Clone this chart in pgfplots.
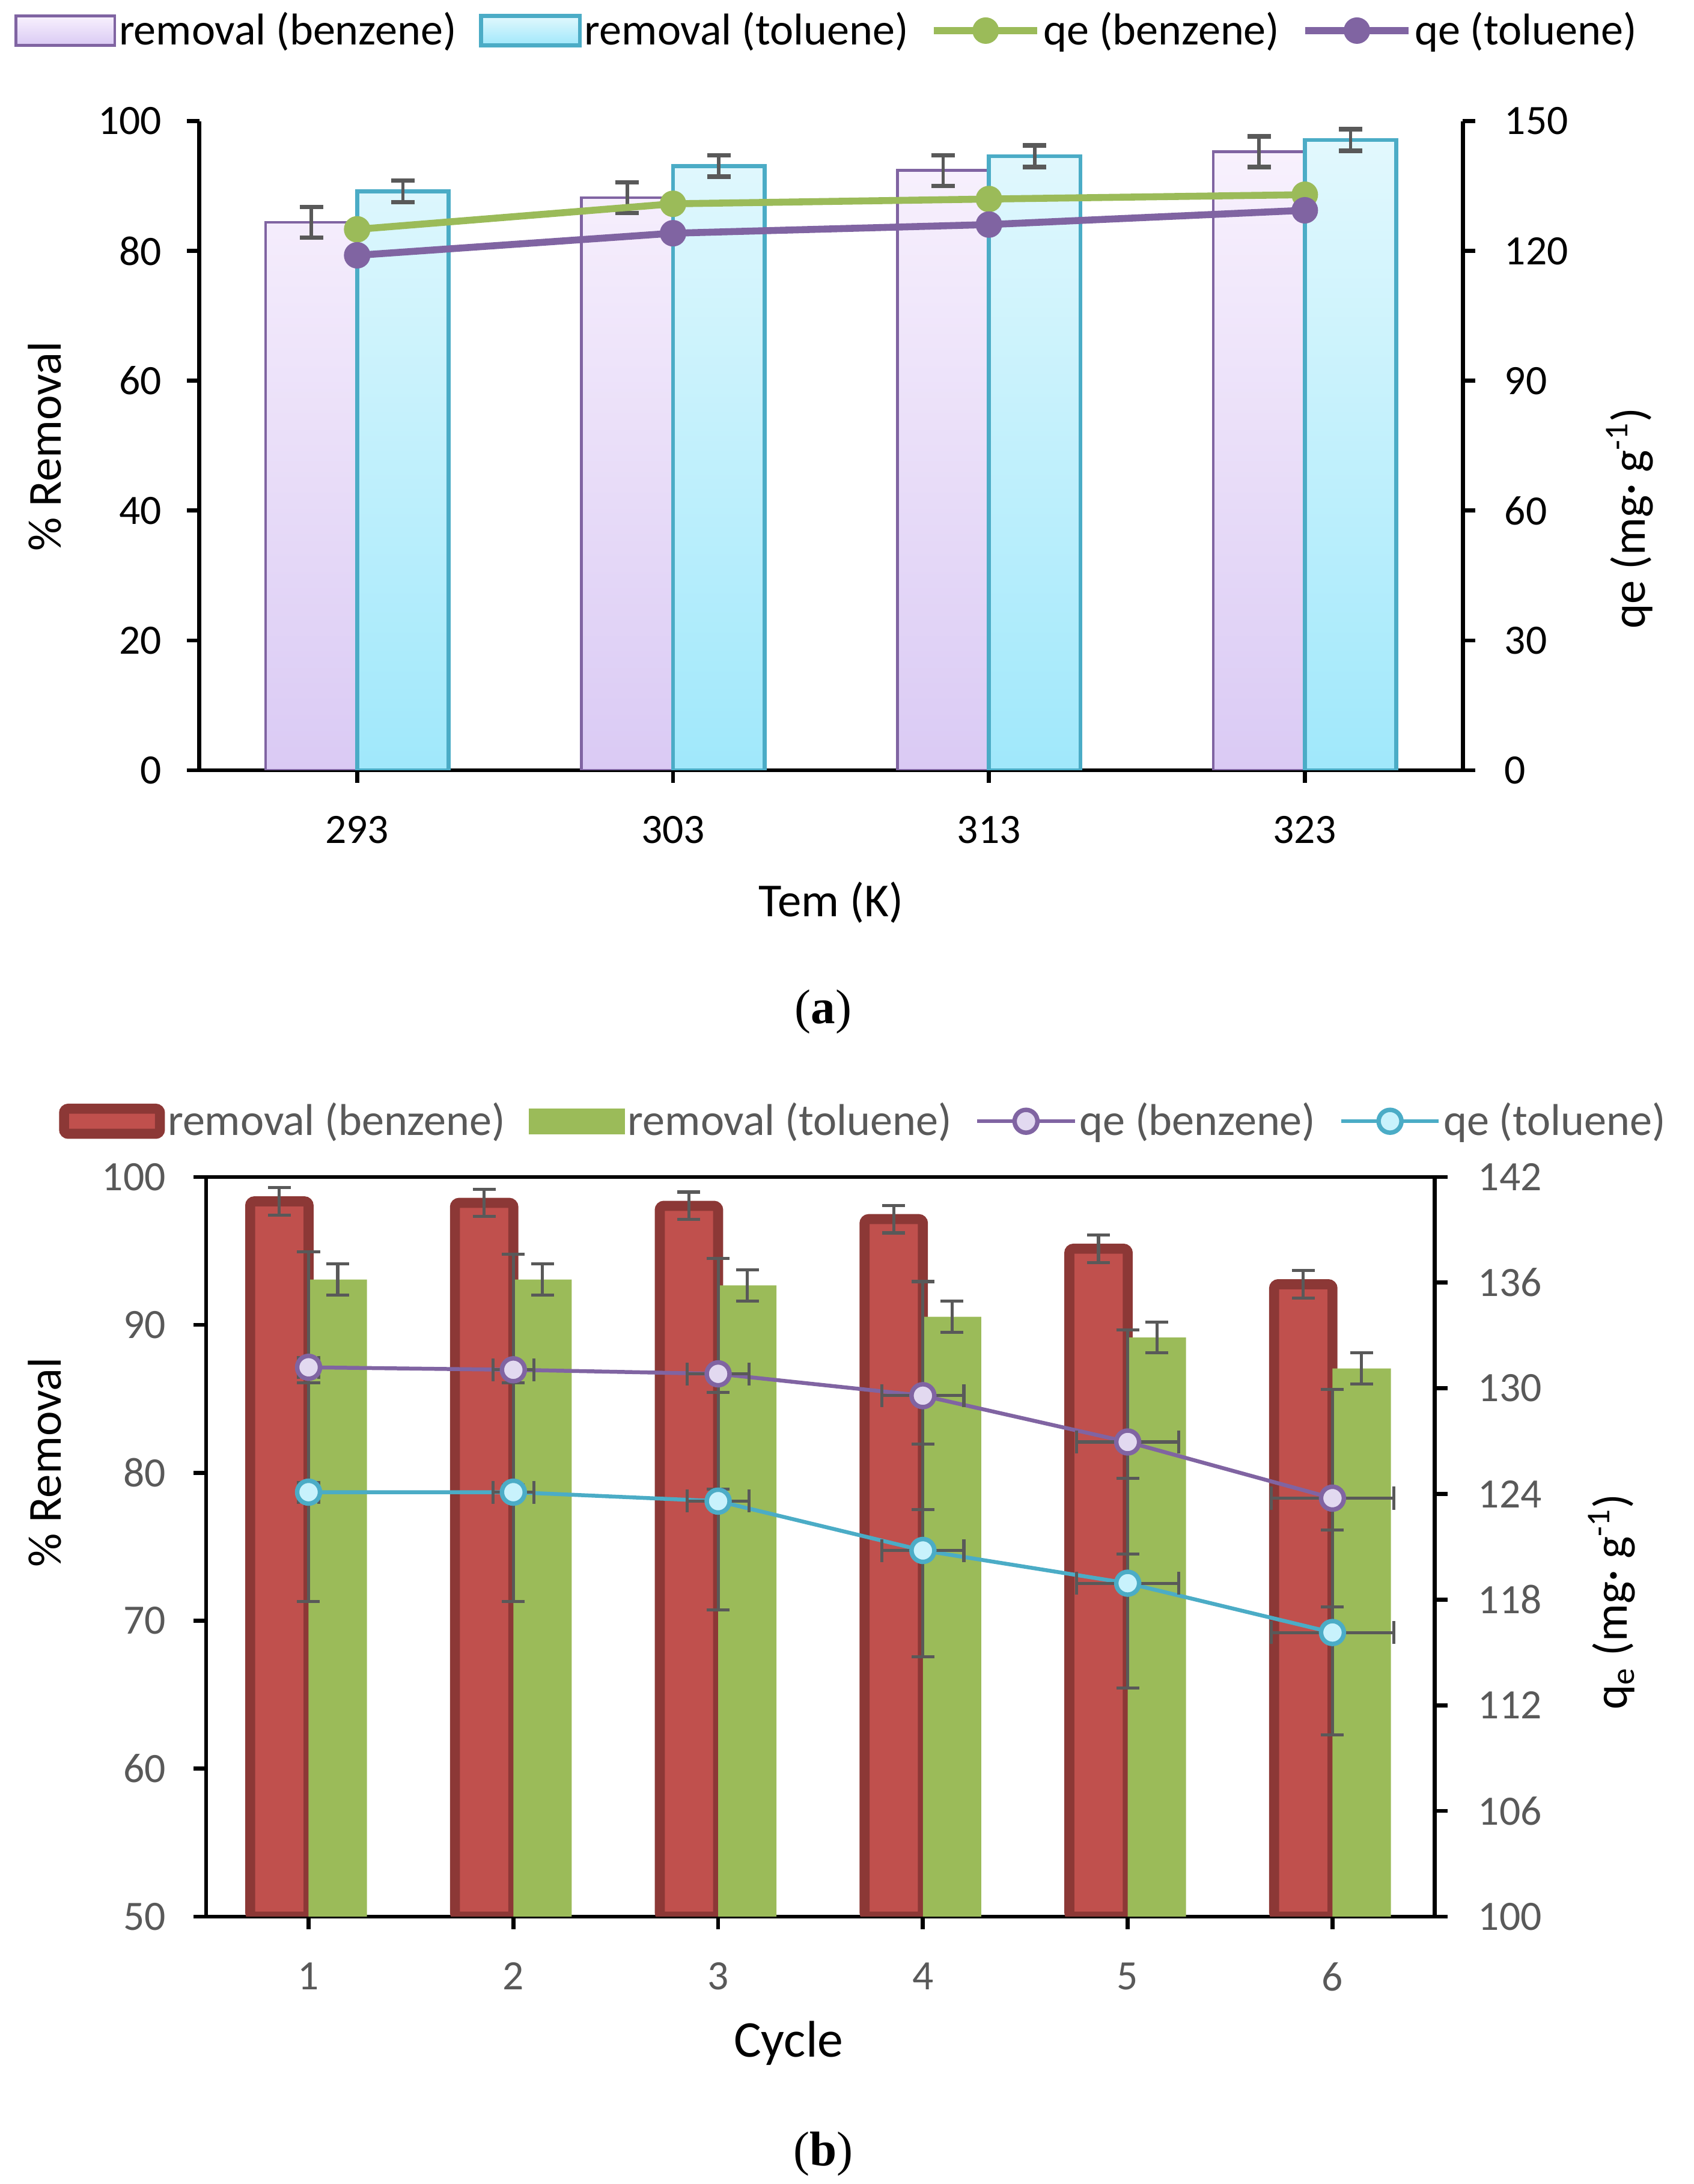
\documentclass[border=0pt]{standalone}
\usepackage{pgfplots}
\pgfplotsset{compat=1.18}
\usepackage{fontspec}
\setmainfont{Carlito}
\newfontfamily\seriffont{Liberation Serif}

\definecolor{purp}{HTML}{8064A2}
\definecolor{cyanA}{HTML}{4BACC6}
\definecolor{greenA}{HTML}{9BBB59}
\definecolor{errgrey}{HTML}{595959}
\definecolor{redfill}{HTML}{C0504D}
\definecolor{reddark}{HTML}{8C3836}
\definecolor{lavtop}{HTML}{F8F1FD}
\definecolor{lavbot}{HTML}{DACAF4}
\definecolor{cyantop}{HTML}{E2F8FD}
\definecolor{cyanbot}{HTML}{A0E8FB}
\definecolor{lavmark}{HTML}{E2D9F0}
\definecolor{cyanmark}{HTML}{C8F2FC}

\pgfplotsset{
  barlegA/.style={legend image code/.code={\draw[##1] (0.5pt,-5.25pt) rectangle (36pt,5.25pt);}},
  barlegB/.style={legend image code/.code={\draw[##1] (1.8pt,-4.5pt) rectangle (36.2pt,4.5pt);}},
  barlegC/.style={legend image code/.code={\fill[##1, draw=none] (0pt,-4.6pt) rectangle (34.5pt,4.6pt);}},
  linelegA/.style={legend image code/.code={\draw[mark repeat=2,mark phase=2,##1] plot coordinates {(0pt,0pt) (18.5pt,0pt) (37pt,0pt)};}},
  linelegB/.style={legend image code/.code={\draw[mark repeat=2,mark phase=2,##1] plot coordinates {(0pt,0pt) (17.5pt,0pt) (35pt,0pt)};}},
  common/.style={
    scale only axis,
    axis line style={line width=1.45pt, black, -},
    tick style={line width=1.45pt, black},
    major tick length=4.5pt,
    tick align=outside,
    /pgf/number format/assume math mode=true,
    tick label style={font=\fontsize{15}{18}\selectfont},
    label style={font=\fontsize{17}{20}\selectfont},
  },
  errA/.style={error bars/.cd, y dir=both, y explicit,
    error bar style={line width=1.2pt, draw=errgrey},
    error mark options={rotate=90, line width=1.6pt, mark size=4.2pt, draw=errgrey}},
  errB/.style={error bars/.cd, y dir=both, y explicit,
    error bar style={line width=1.1pt, draw=errgrey},
    error mark options={rotate=90, line width=1.1pt, mark size=4.1pt, draw=errgrey}},
  errQ/.style={error bars/.cd, x dir=both, x explicit, y dir=both, y explicit,
    error bar style={line width=1.1pt, draw=errgrey},
    error mark options={rotate=90, line width=1.1pt, mark size=4.1pt, draw=errgrey}},
}

\begin{document}
\begin{tikzpicture}
\path[use as bounding box] (0,0) rectangle (608pt,784pt);

% ---------------- panel (a) ----------------
\begin{axis}[common,
  at={(71.5pt,507.5pt)}, anchor=south west, width=453.5pt, height=233pt,
  xmin=-0.5, xmax=3.5, ymin=0, ymax=100,
  axis x line*=bottom, axis y line*=left,
  xtick={0,1,2,3}, xticklabels={293,303,313,323},
  ytick={0,20,40,60,80,100},
  yticklabel style={xshift=-5.5pt},
  xticklabel style={yshift=-8.5pt},
  xlabel={Tem (K)}, ylabel={\% Removal},
  xlabel style={at={(axis description cs:0.5,-0.204)}, anchor=center},
  ylabel style={at={(axis description cs:-0.1224,0.4989)}, anchor=center},
]
% benzene bars, plotted at category - 0.145
\addplot[ybar, bar width=0.29, bar shift=0, draw=purp, line width=1pt,
  top color=lavtop, bottom color=lavbot, errA]
  table[x index=0, y index=1, y error index=2] {
-0.145 84.4 2.36
0.855 88.2 2.36
1.855 92.4 2.36
2.855 95.3 2.36
};
% toluene bars, plotted at category + 0.145
\addplot[ybar, bar width=0.29, bar shift=0, draw=cyanA, line width=1.45pt,
  top color=cyantop, bottom color=cyanbot, errA]
  table[x index=0, y index=1, y error index=2] {
0.145 89.2 1.66
1.145 93.1 1.66
2.145 94.6 1.66
3.145 97.1 1.66
};
\end{axis}

\begin{axis}[common,
  at={(71.5pt,507.5pt)}, anchor=south west, width=453.5pt, height=233pt,
  xmin=-0.5, xmax=3.5, ymin=0, ymax=150,
  axis x line=none, axis y line*=right,
  ytick={0,30,60,90,120,150},
  yticklabel style={xshift=7pt},
  ylabel={qe (mg· g\textsuperscript{-1})},
  ylabel style={at={(axis description cs:1.1323,0.388)}, anchor=center},
  legend columns=4,
  legend style={at={(axis description cs:-0.1466,1.1395)}, anchor=west,
    draw=none, fill=none, inner sep=0pt, font=\fontsize{16}{19}\selectfont,
    column sep=0pt, nodes={inner sep=1pt},
    /tikz/every even column/.append style={column sep=7pt}},
]
\addlegendimage{barlegA, draw=purp, line width=1pt, top color=lavtop, bottom color=lavbot}
\addlegendentry{removal (benzene)}
\addlegendimage{barlegA, draw=cyanA, line width=1.45pt, top color=cyantop, bottom color=cyanbot}
\addlegendentry{removal (toluene)}
\addplot[linelegA, greenA, line width=2.5pt, mark=*, mark size=4.5pt,
  mark options={fill=greenA, draw=greenA, line width=0.5pt}]
  coordinates {(0,125.0) (1,130.9) (2,132.0) (3,133.0)};
\addlegendentry{qe (benzene)}
\addplot[linelegA, purp, line width=2.5pt, mark=*, mark size=4.5pt,
  mark options={fill=purp, draw=purp, line width=0.5pt}]
  coordinates {(0,119.0) (1,124.1) (2,126.1) (3,129.4)};
\addlegendentry{qe (toluene)}
\end{axis}

\node[font=\seriffont\fontsize{17.5}{20}\selectfont, anchor=base] at (295.5pt,416.6pt) {(\textbf{a})};

% ---------------- panel (b) ----------------
\begin{axis}[common,
  at={(74pt,96pt)}, anchor=south west, width=441pt, height=265.5pt,
  xmin=0.5, xmax=6.5, ymin=50, ymax=100,
  axis x line*=bottom, axis y line*=left,
  xtick={1,2,3,4,5,6}, xticklabels={1,2,3,4,5,6}, ytick={50,60,70,80,90,100},
  tick label style={color=errgrey},
  yticklabel style={xshift=-6.5pt},
  xticklabel style={yshift=-8.5pt},
  xlabel={Cycle}, ylabel={\% Removal},
  xlabel style={at={(axis description cs:0.474,-0.1714)}, anchor=center, font=\fontsize{18.5}{22}\selectfont},
  ylabel style={at={(axis description cs:-0.1315,0.614)}, anchor=center},
]
% benzene bars, plotted at cycle - 0.1425
\addplot[ybar, bar width=0.285, bar shift=0, fill=redfill, draw=reddark, line width=3.6pt,
  rounded corners=1.5pt, errB]
  table[x index=0, y index=1, y error index=2] {
0.8575 98.35 0.93
1.8575 98.25 0.93
2.8575 98.05 0.93
3.8575 97.15 0.93
4.8575 95.15 0.93
5.8575 92.75 0.93
};
% toluene bars, plotted at cycle + 0.1425
\addplot[ybar, bar width=0.285, bar shift=0, fill=greenA, draw=none, errB]
  table[x index=0, y index=1, y error index=2] {
1.1425 93.07 1.05
2.1425 93.07 1.05
3.1425 92.67 1.05
4.1425 90.55 1.05
5.1425 89.15 1.05
6.1425 87.05 1.05
};
\end{axis}

\begin{axis}[common,
  at={(74pt,96pt)}, anchor=south west, width=441pt, height=265.5pt,
  xmin=0.5, xmax=6.5, ymin=100, ymax=142,
  axis x line*=top, xtick=\empty, axis y line*=right,
  ytick={100,106,112,118,124,130,136,142},
  tick label style={color=errgrey},
  yticklabel style={xshift=7.5pt},
  ylabel={q\textsubscript{e} (mg· g\textsuperscript{-1})},
  ylabel style={at={(axis description cs:1.144,0.4256)}, anchor=center},
  legend columns=4,
  legend style={at={(axis description cs:-0.1202,1.0753)}, anchor=west,
    draw=none, fill=none, inner sep=0pt, font=\fontsize{16}{19}\selectfont,
    text=errgrey, column sep=0pt, nodes={inner sep=1pt},
    /tikz/every even column/.append style={column sep=7.5pt}},
]
\addlegendimage{barlegB, fill=redfill, draw=reddark, line width=3.6pt, rounded corners=1.5pt}
\addlegendentry{removal (benzene)}
\addlegendimage{barlegC, fill=greenA}
\addlegendentry{removal (toluene)}
\addplot[linelegB, purp, line width=1.4pt, mark=*, mark size=4.1pt,
  mark options={fill=lavmark, draw=purp, line width=1.6pt}, errQ]
  table[x index=0, y index=1, x error index=2, y error index=3] {
1 131.19 0.05 6.56
2 131.05 0.10 6.55
3 130.82 0.15 6.54
4 129.58 0.20 6.48
5 126.95 0.25 6.35
6 123.76 0.30 6.19
};
\addlegendentry{qe (benzene)}
\addplot[linelegB, cyanA, line width=1.4pt, mark=*, mark size=4.1pt,
  mark options={fill=cyanmark, draw=cyanA, line width=1.6pt}, errQ]
  table[x index=0, y index=1, x error index=2, y error index=3] {
1 124.10 0.05 6.21
2 124.10 0.10 6.21
3 123.59 0.15 6.18
4 120.79 0.20 6.04
5 118.93 0.25 5.95
6 116.13 0.30 5.81
};
\addlegendentry{qe (toluene)}
\end{axis}

\node[font=\seriffont\fontsize{17.5}{20}\selectfont, anchor=base] at (295.5pt,6.6pt) {(\textbf{b})};
\end{tikzpicture}
\end{document}
